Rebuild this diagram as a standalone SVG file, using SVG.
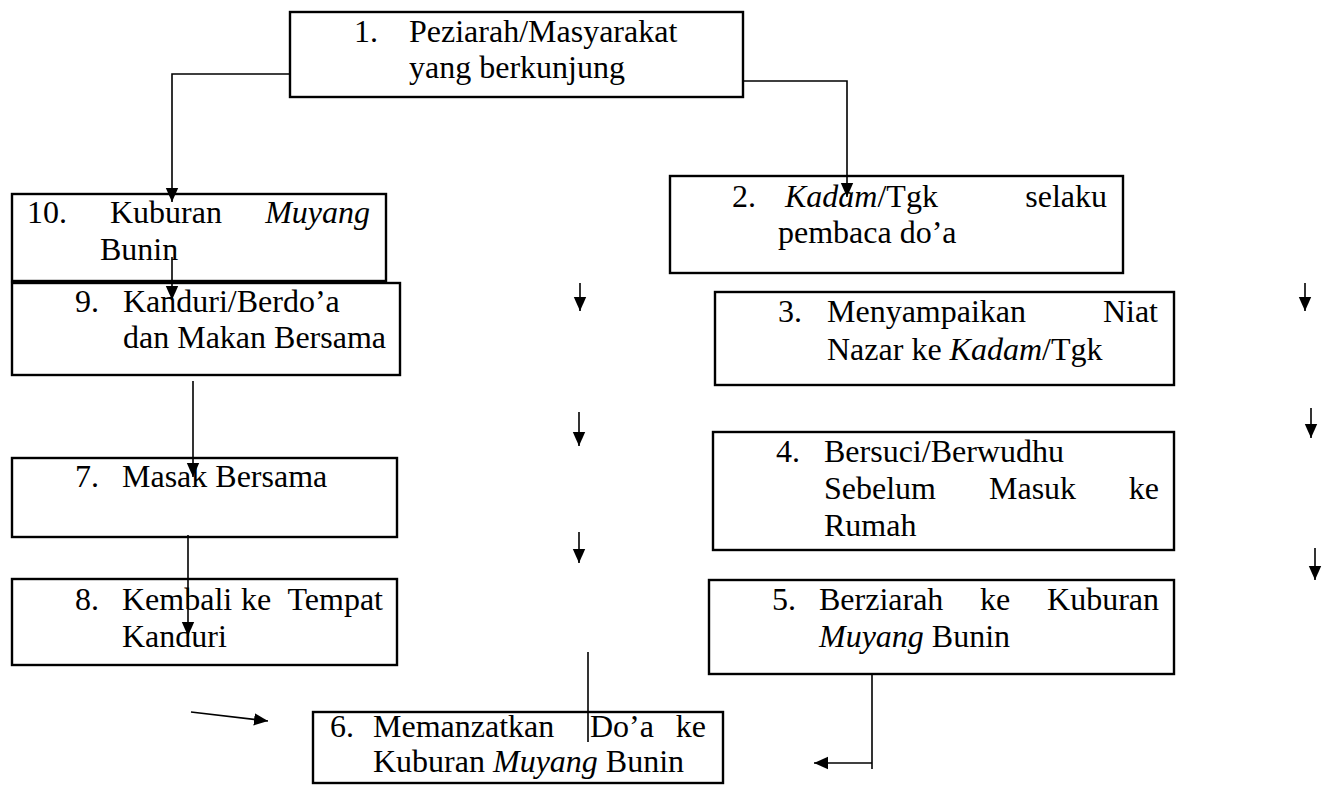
<svg xmlns="http://www.w3.org/2000/svg" width="1332" height="785" viewBox="0 0 1332 785">
<style>
.box{fill:#fff;stroke:#000;stroke-width:2.4}
text{font-family:"Liberation Serif","Times New Roman",serif;font-size:32px;fill:#000}
.i{font-style:italic}
.c{fill:none;stroke:#000;stroke-width:1.6}
</style>
<defs>
<marker id="ah" markerUnits="userSpaceOnUse" markerWidth="16" markerHeight="16" viewBox="0 0 16 16" refX="14" refY="8" orient="auto">
<path d="M0,1.8 L14,8 L0,14.2 Z" fill="#000"/>
</marker>
</defs>
<rect width="1332" height="785" fill="#fff"/>
<g id="n1"><rect class="box" x="290" y="12" width="453" height="85"/>
<text x="354" y="42">1.</text><text x="409" y="42">Peziarah/Masyarakat</text>
<text x="409" y="78">yang berkunjung</text></g>
<g id="n10"><rect class="box" x="12" y="194" width="374" height="87"/>
<text x="27" y="223">10.</text><text x="110" y="223">Kuburan</text><text class="i" x="370" y="223" text-anchor="end">Muyang</text>
<text x="100" y="260">Bunin</text></g>
<g id="n9"><rect class="box" x="12" y="283" width="388" height="92"/>
<text x="75" y="312">9.</text><text x="123" y="312">Kanduri/Berdo’a</text>
<text x="123" y="348">dan Makan Bersama</text></g>
<g id="n2"><rect class="box" x="670" y="176" width="453" height="97"/>
<text x="732" y="207">2.</text><text x="785" y="207"><tspan class="i">Kadam</tspan>/Tgk</text><text x="1107" y="207" text-anchor="end">selaku</text>
<text x="778" y="243">pembaca do’a</text></g>
<g id="n3"><rect class="box" x="715" y="292" width="459" height="93"/>
<text x="778" y="322">3.</text><text x="827" y="322">Menyampaikan</text><text x="1158" y="322" text-anchor="end">Niat</text>
<text x="827" y="360">Nazar ke <tspan class="i">Kadam</tspan>/Tgk</text></g>
<g id="n4"><rect class="box" x="713" y="432" width="461" height="118"/>
<text x="776" y="462">4.</text><text x="824" y="462">Bersuci/Berwudhu</text>
<text x="824" y="499">Sebelum</text><text x="989" y="499">Masuk</text><text x="1159" y="499" text-anchor="end">ke</text>
<text x="824" y="536">Rumah</text></g>
<g id="n5"><rect class="box" x="709" y="580" width="465" height="94"/>
<text x="772" y="610">5.</text><text x="819" y="610">Berziarah</text><text x="980" y="610">ke</text><text x="1159" y="610" text-anchor="end">Kuburan</text>
<text x="819" y="647"><tspan class="i">Muyang</tspan> Bunin</text></g>
<g id="n6"><rect class="box" x="313" y="712" width="410" height="71"/>
<text x="330" y="737">6.</text><text x="373" y="737">Memanzatkan</text><text x="590" y="737">Do’a</text><text x="706" y="737" text-anchor="end">ke</text>
<text x="373" y="772">Kuburan <tspan class="i">Muyang</tspan> Bunin</text></g>
<g id="n7"><rect class="box" x="12" y="458" width="385" height="79"/>
<text x="75" y="487">7.</text><text x="122" y="487">Masak Bersama</text></g>
<g id="n8"><rect class="box" x="12" y="579" width="385" height="86"/>
<text x="75" y="610">8.</text><text x="122" y="610">Kembali</text><text x="241" y="610">ke</text><text x="383" y="610" text-anchor="end">Tempat</text>
<text x="122" y="647">Kanduri</text></g>
<g id="connectors">
<path class="c" d="M290,74 H172 V202" marker-end="url(#ah)"/>
<path class="c" d="M743,81 H847 V197" marker-end="url(#ah)"/>
<path class="c" d="M172,257 V300" marker-end="url(#ah)"/>
<path class="c" d="M193,381 V477" marker-end="url(#ah)"/>
<path class="c" d="M188,535 V636" marker-end="url(#ah)"/>
<path class="c" d="M580,283 V311" marker-end="url(#ah)"/>
<path class="c" d="M1305,283 V311" marker-end="url(#ah)"/>
<path class="c" d="M579,412 V446" marker-end="url(#ah)"/>
<path class="c" d="M1311,408 V438" marker-end="url(#ah)"/>
<path class="c" d="M579,532 V563" marker-end="url(#ah)"/>
<path class="c" d="M1315,548 V580" marker-end="url(#ah)"/>
<path class="c" d="M588,652 V742"/>
<path class="c" d="M872,674 V769"/>
<path class="c" d="M872,763 H814" marker-end="url(#ah)"/>
<path class="c" d="M191,712 L268,721" marker-end="url(#ah)"/>
</g>
</svg>
